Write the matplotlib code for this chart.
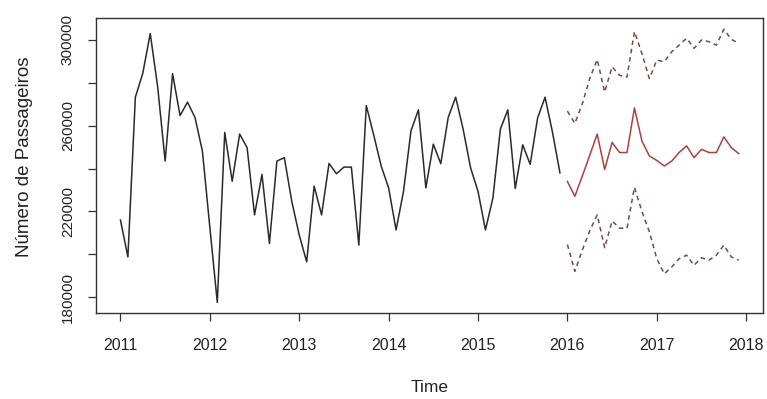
import numpy as np
import matplotlib.pyplot as plt

plt.rcParams['font.family'] = ['Liberation Sans', 'DejaVu Sans']

# Monthly passenger counts, Jan 2011 - Dec 2015
observed = [
    216000, 198800, 273300, 284500, 303000, 278000, 243500, 284300, 264700, 271000, 263900, 248200,
    212600, 177600, 256900, 234100, 256100, 249800, 218400, 237300, 205100, 243500, 245100, 224700,
    209000, 196500, 231800, 218400, 242400, 237600, 240700, 240700, 204300, 269400, 255600, 241200,
    231000, 211400, 229400, 257600, 267400, 231000, 251400, 242300, 263900, 273300, 258400, 240400,
    229400, 211400, 226300, 258400, 267400, 230700, 251100, 242000, 263600, 273300, 256900, 238000,
]

# Forecast Jan 2016 - Dec 2017: point forecast and interval bounds
forecast_mean = [
    234000, 227100, 236500, 246200, 256100, 239600, 252200, 247500, 247500, 268300, 252900, 245900,
    243800, 241200, 243500, 247500, 250600, 245100, 249000, 247500, 247500, 254800, 249800, 247000,
]
forecast_upper = [
    266800, 261100, 270200, 282000, 290900, 275700, 287500, 283500, 282700, 303900, 293700, 282000,
    290600, 289800, 294500, 297600, 300800, 296100, 300000, 299200, 297600, 305000, 300300, 298400,
]
forecast_lower = [
    204600, 192100, 202000, 211000, 218400, 203100, 215600, 212200, 212200, 231300, 220000, 210600,
    198000, 190900, 194100, 198000, 199600, 194900, 198400, 197300, 199600, 204300, 198800, 197300,
]

x_ticks = [2011, 2012, 2013, 2014, 2015, 2016, 2017, 2018]
y_ticks = [180000, 200000, 220000, 240000, 260000, 280000, 300000]
y_tick_labels = ['180000', '', '220000', '', '260000', '', '300000']

t_obs = 2011 + np.arange(len(observed)) / 12
t_fc = 2016 + np.arange(len(forecast_mean)) / 12

fig = plt.figure(figsize=(7.67, 3.99), dpi=100)
ax = fig.add_axes([0.1248, 0.2148, 0.8706, 0.7393])

ax.plot(t_obs, observed, color='#2a2a2a', lw=1.1)
ax.plot(t_fc, forecast_mean, color='#b04040', lw=1.1)
ax.plot(t_fc, forecast_upper, color='#7a4848', lw=1.1, ls=(0, (3, 2.5)))
ax.plot(t_fc, forecast_lower, color='#7a4848', lw=1.1, ls=(0, (3, 2.5)))

# R-style 4% padding on both axes
all_t = np.concatenate([t_obs, t_fc])
all_v = np.concatenate([observed, forecast_mean, forecast_upper, forecast_lower])
tpad = 0.04 * (all_t.max() - all_t.min())
vpad = 0.04 * (all_v.max() - all_v.min())
ax.set_xlim(all_t.min() - tpad, all_t.max() + tpad)
ax.set_ylim(all_v.min() - vpad, all_v.max() + vpad)

ax.set_xticks(x_ticks)
ax.set_xticklabels([str(x) for x in x_ticks])
ax.set_yticks(y_ticks)
ax.set_yticklabels(y_tick_labels, rotation=90, va='center')

ax.tick_params(axis='both', direction='out', length=6, width=0.9, colors='#333333',
               labelsize=11, labelcolor='#222222')
ax.tick_params(axis='x', pad=12, labelsize=11.5)
ax.tick_params(axis='y', pad=9)
for s in ax.spines.values():
    s.set_color('#333333')
    s.set_linewidth(1.0)

ax.set_xlabel('Time', fontsize=12.5, color='#222222')
ax.xaxis.set_label_coords(0.5, -0.225)
ax.set_ylabel('Número de Passageiros', fontsize=13.5, color='#222222')
ax.yaxis.set_label_coords(-0.094, 0.53)

fig.savefig('out.png', dpi=100)
